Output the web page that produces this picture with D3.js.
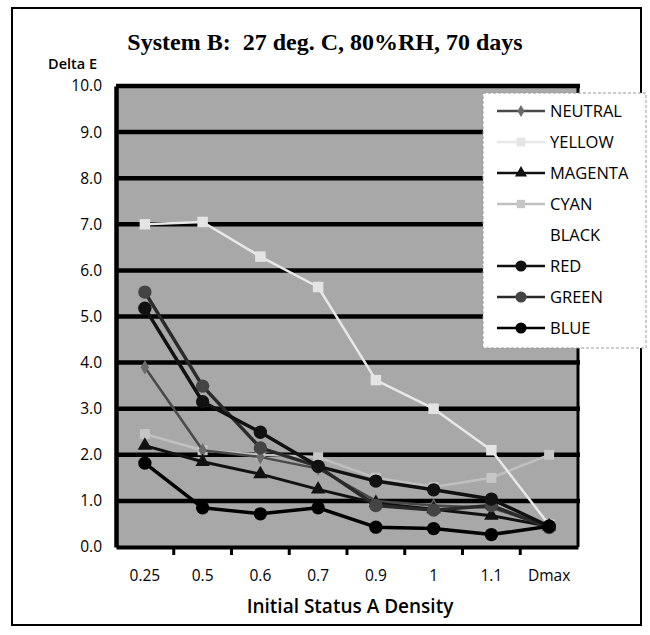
<!DOCTYPE html>
<html><head><meta charset="utf-8">
<script src="https://cdn.jsdelivr.net/npm/d3@7"></script>
<style>body{margin:0;background:#fff}</style>
</head><body>
<script>
const categories = ["0.25","0.5","0.6","0.7","0.9","1","1.1","Dmax"];
const yTicks = [0,1,2,3,4,5,6,7,8,9,10];
const seriesNames = ["NEUTRAL","YELLOW","MAGENTA","CYAN","BLACK","RED","GREEN","BLUE"];
const neutral = [3.9, 2.1, 1.95, 1.7, 1.0, 0.9, 0.85, 0.45];
const yellow  = [7.0, 7.05, 6.3, 5.64, 3.62, 3.0, 2.1, 0.48];
const magenta = [2.2, 1.85, 1.58, 1.25, 0.95, 0.82, 0.68, 0.45];
const cyan    = [2.45, 2.1, 2.0, 1.95, 1.5, 1.3, 1.5, 2.0];
const black   = [];
const red     = [5.18, 3.15, 2.49, 1.75, 1.43, 1.24, 1.04, 0.45];
const green   = [5.53, 3.49, 2.15, 1.75, 0.9, 0.8, 0.9, 0.42];
const blue    = [1.82, 0.85, 0.72, 0.85, 0.43, 0.4, 0.27, 0.45];

const styles = {
  NEUTRAL:{stroke:"#4a4a4a", fill:"#6a6a6a", sym:d3.symbolDiamond, size:60, w:2.5},
  YELLOW:{stroke:"#e8e8e8", fill:"#e4e4e4", sym:d3.symbolSquare, size:110, w:2.5},
  MAGENTA:{stroke:"#111", fill:"#111", sym:d3.symbolTriangle, size:90, w:3},
  CYAN:{stroke:"#c0c0c0", fill:"#c6c6c6", sym:d3.symbolSquare, size:100, w:2.5},
  BLACK:{stroke:"none", fill:"none", sym:d3.symbolCircle, size:0, w:0},
  RED:{stroke:"#111", fill:"#111", sym:d3.symbolCircle, size:140, w:3.5},
  GREEN:{stroke:"#2a2a2a", fill:"#444", sym:d3.symbolCircle, size:140, w:3.5},
  BLUE:{stroke:"#000", fill:"#000", sym:d3.symbolCircle, size:140, w:3.5}
};
const data = {NEUTRAL:neutral,YELLOW:yellow,MAGENTA:magenta,CYAN:cyan,BLACK:black,RED:red,GREEN:green,BLUE:blue};

const W=650,H=635;
const svg=d3.select("body").append("svg").attr("width",W).attr("height",H);
svg.append("rect").attr("x",12).attr("y",8).attr("width",629).attr("height",617)
  .attr("fill","#fff").attr("stroke","#000").attr("stroke-width",2);

const x=d3.scaleBand().domain(categories).range([116,578]);
const y=d3.scaleLinear().domain([0,10]).range([547,86]);

svg.append("rect").attr("x",116).attr("y",y(10)).attr("width",462).attr("height",y(0)-y(10)).attr("fill","#a8a8a8");

// gridlines
svg.append("g").selectAll("line").data(yTicks.filter(d=>d>0)).join("line")
  .attr("x1",116).attr("x2",580).attr("y1",d=>y(d)).attr("y2",d=>y(d))
  .attr("stroke","#000").attr("stroke-width",4.5);
// right edge
svg.append("line").attr("x1",578).attr("x2",578).attr("y1",y(10)).attr("y2",y(0)).attr("stroke","#000").attr("stroke-width",3);

// y axis
const yAxis=svg.append("g").attr("transform","translate(116,0)")
  .call(d3.axisLeft(y).tickValues(yTicks).tickFormat(d3.format(".1f")).tickSize(0).tickPadding(14));
yAxis.select(".domain").attr("stroke","#000").attr("stroke-width",4.5);
yAxis.selectAll("text").attr("font-family","Open Sans, sans-serif").attr("font-size",15.5).attr("fill","#000");

// x axis
const xAxis=svg.append("g").attr("transform",`translate(0,${y(0)})`)
  .call(d3.axisBottom(x).tickSize(0).tickPadding(23));
xAxis.select(".domain").attr("stroke","#000").attr("stroke-width",4);
xAxis.selectAll("text").attr("font-family","Open Sans, sans-serif").attr("font-size",15.5).attr("fill","#000");
svg.append("g").selectAll("line").data(categories.slice(1)).join("line")
  .attr("x1",d=>x(d)).attr("x2",d=>x(d)).attr("y1",y(0)).attr("y2",y(0)+8)
  .attr("stroke","#000").attr("stroke-width",3);

// series
const line=d3.line().x((d,i)=>x(categories[i])+x.bandwidth()/2).y(d=>y(d));
const drawOrder=["CYAN","YELLOW","NEUTRAL","MAGENTA","GREEN","RED","BLUE"];
drawOrder.forEach(n=>{
  const s=styles[n], v=data[n];
  if(!v.length) return;
  svg.append("path").datum(v).attr("d",line).attr("fill","none").attr("stroke",s.stroke).attr("stroke-width",s.w).attr("stroke-linejoin","round");
  svg.append("g").selectAll("path").data(v).join("path")
    .attr("d",d3.symbol().type(s.sym).size(s.size))
    .attr("transform",(d,i)=>`translate(${x(categories[i])+x.bandwidth()/2},${y(d)})`)
    .attr("fill",s.fill);
});

// legend
const lg=svg.append("g");
lg.append("rect").attr("x",483).attr("y",93).attr("width",163).attr("height",255)
  .attr("fill","#fff").attr("stroke","#999").attr("stroke-dasharray","3,2");
seriesNames.forEach((n,i)=>{
  const s=styles[n], yy=111+i*31;
  if(data[n].length){
    lg.append("line").attr("x1",497).attr("x2",545).attr("y1",yy).attr("y2",yy).attr("stroke",s.stroke).attr("stroke-width",Math.min(s.w,2.5));
    lg.append("path").attr("d",d3.symbol().type(s.sym).size(s.size*0.7)).attr("transform",`translate(521,${yy})`).attr("fill",s.fill);
  }
  lg.append("text").attr("x",550).attr("y",yy+6).text(n)
    .attr("font-family","Open Sans, sans-serif").attr("font-size",16.5).attr("fill","#000");
});

// titles
svg.append("text").attr("x",325).attr("y",50).attr("text-anchor","middle")
  .attr("font-family","Liberation Serif, serif").attr("font-weight","bold").attr("font-size",24)
  .text("System B:  27 deg. C, 80%RH, 70 days").style("white-space","pre");
svg.append("text").attr("x",48).attr("y",69).text("Delta E")
  .attr("font-family","Open Sans, sans-serif").attr("font-weight",600).attr("font-size",14.5);
svg.append("text").attr("x",350).attr("y",613).attr("text-anchor","middle").text("Initial Status A Density")
  .attr("font-family","Open Sans, sans-serif").attr("font-weight",600).attr("font-size",19);
</script>
</body></html>
